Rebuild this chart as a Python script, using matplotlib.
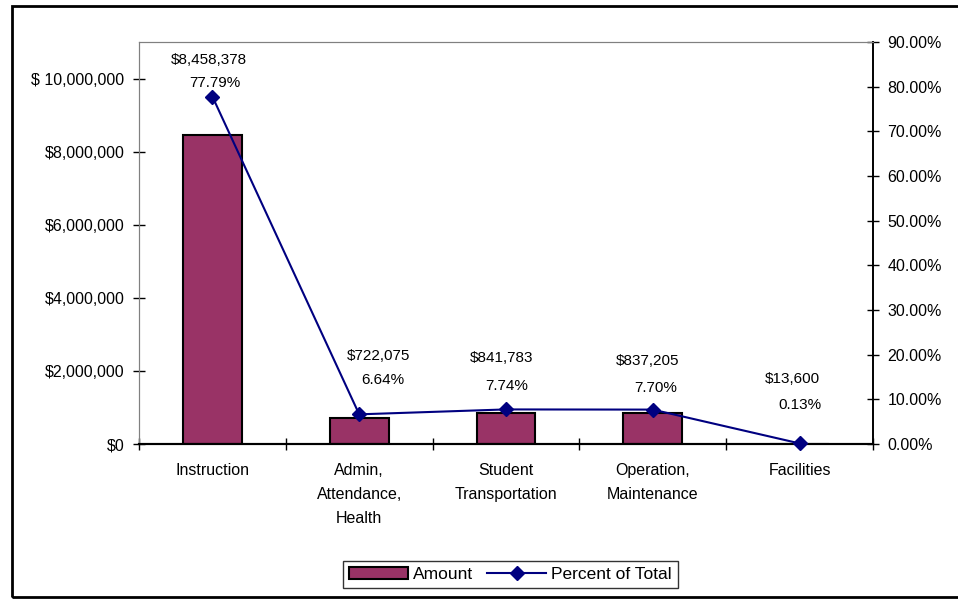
import matplotlib
matplotlib.use("Agg")
import matplotlib.pyplot as plt
from matplotlib.patches import Rectangle
from matplotlib.ticker import FuncFormatter, MultipleLocator, FixedLocator
import numpy as np

plt.rcParams['font.family'] = ['Liberation Sans', 'DejaVu Sans']

categories = ["Instruction", "Admin,\nAttendance,\nHealth", "Student\nTransportation",
              "Operation,\nMaintenance", "Facilities"]
amounts = [8458378, 722075, 841783, 837205, 13600]
percents = [77.79, 6.64, 7.74, 7.70, 0.13]
amount_labels = ["$8,458,378", "$722,075", "$841,783", "$837,205", "$13,600"]
percent_labels = ["77.79%", "6.64%", "7.74%", "7.70%", "0.13%"]

# label offsets (pixels) relative to line points
amt_off = [(-3, 37), (19, 58), (-4, 51), (-5, 49), (-7, 64)]
pct_off = [(2, 14), (24, 34), (1, 23), (3, 22), (0, 38)]

BAR = "#993366"
LINE = "#000080"
FS = 11.5

fig = plt.figure(figsize=(9.58, 5.99), dpi=100)
ax = fig.add_axes([139/958, 1-444/599, (873-139)/958, (444-42)/599])
ax2 = ax.twinx()

x = np.arange(len(categories))
bars = ax.bar(x, amounts, width=0.4, color=BAR, edgecolor="black", linewidth=1.5,
              label="Amount", zorder=2)
ax.set_xlim(-0.5, len(categories) - 0.5)
ax.set_ylim(0, 11000000)
ax.yaxis.set_major_locator(MultipleLocator(2000000))
ax.yaxis.set_major_formatter(FuncFormatter(
    lambda v, p: ("$ " if v >= 1e7 else "$") + f"{v:,.0f}"))

line, = ax2.plot(x, percents, color=LINE, linewidth=1.5, marker="D", markersize=7,
                 label="Percent of Total", zorder=3, clip_on=False)
ax2.set_ylim(0, 90)
ax2.yaxis.set_major_locator(MultipleLocator(10))
ax2.yaxis.set_major_formatter(FuncFormatter(lambda v, p: f"{v:.2f}%"))

ax.set_xticks(x)
ax.set_xticklabels(categories, fontsize=FS, linespacing=1.75, va="top")
ax.xaxis.set_minor_locator(FixedLocator(np.arange(-0.5, len(categories), 1.0)))
ax.tick_params(axis="x", which="major", length=0, pad=14)
ax.tick_params(axis="x", which="minor", length=8, direction="inout", width=1)
ax.tick_params(axis="y", length=9, direction="inout", width=1, labelsize=FS, pad=6)
ax2.tick_params(axis="y", length=9, direction="inout", width=1, labelsize=FS, pad=6)

for a in (ax, ax2):
    a.spines["top"].set_color("#808080")
    a.spines["left"].set_color("#808080")
    a.spines["right"].set_color("black")
    a.spines["bottom"].set_color("black")
    a.spines["bottom"].set_linewidth(1.5)
    a.spines["right"].set_linewidth(1.2)

for i in range(len(categories)):
    ax2.annotate(amount_labels[i], (x[i], percents[i]), xytext=amt_off[i],
                 textcoords="offset pixels", ha="center", va="center", fontsize=FS - 0.5)
    ax2.annotate(percent_labels[i], (x[i], percents[i]), xytext=pct_off[i],
                 textcoords="offset pixels", ha="center", va="center", fontsize=FS - 0.5)

leg = fig.legend(handles=[bars, line], labels=["Amount", "Percent of Total"],
                 loc="center", bbox_to_anchor=(510.5/958, 1-574.5/599), ncol=2,
                 fontsize=FS + 1, frameon=True, fancybox=False, edgecolor="black",
                 handlelength=3.4, handletextpad=0.3, columnspacing=0.8,
                 borderpad=0.35)
leg.get_frame().set_linewidth(1.0)

fig.patches.append(Rectangle((12/958, 2/599), 1.2, 1-8/599, transform=fig.transFigure,
                             fill=False, edgecolor="black", linewidth=2, clip_on=False))

fig.savefig("out.png", dpi=100)
